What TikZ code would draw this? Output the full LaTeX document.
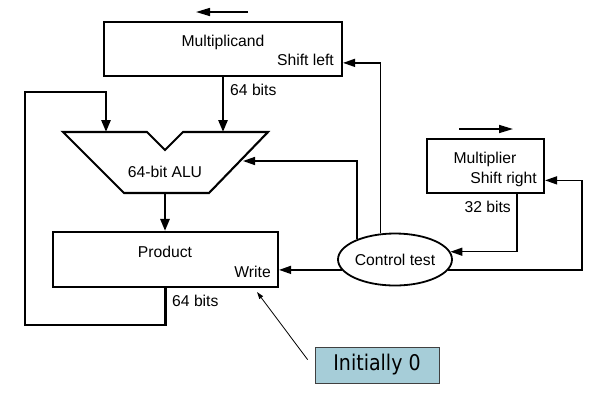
\documentclass[tikz,border=0pt]{standalone}
\usepackage{fontspec}
\setmainfont{Liberation Sans}
\newfontfamily\notefont[FakeStretch=0.88]{DejaVu Sans}
\usepackage{xcolor}
\usepackage{tikz}
\usetikzlibrary{calc,shapes.geometric,arrows.meta}
\definecolor{noteblue}{RGB}{166,205,216}

\begin{document}
\begin{tikzpicture}[x=1bp,y=-1bp,
							every node/.style={inner sep=0pt,font=\fontsize{15.7bp}{18bp}\selectfont},
							reg/.style={draw,rectangle,line width=2.1bp},
							bus/.style={line width=2.6bp,-{Triangle[length=12bp,width=9bp]}},
							ctl/.style={line width=1.5bp,-{Triangle[length=12bp,width=8bp]}},
							shiftarrow/.style={line width=1.6bp,-{Triangle[length=14bp,width=8bp]}},
							note/.style={line width=0.8bp,-{Triangle[length=7bp,width=4.5bp]}}]
			\useasboundingbox (0,0) rectangle (597,401);
			\node[reg,minimum width=238bp,minimum height=54bp] (mcand) at (223,49) {};
			\node[anchor=base] (mcandname) at (223,46) {Multiplicand};
			\node[anchor=base east] (shl) at (334,65.5) {Shift left};
			\node[reg,minimum width=117bp,minimum height=54bp] (mplier) at (485.5,166) {};
			\node[anchor=base] (mpliername) at (485,163) {Multiplier};
			\node[anchor=base east] (shr) at (537,183) {Shift right};
			\node[reg,minimum width=225bp,minimum height=55bp] (product) at (165.5,259.5) {};
			\node[anchor=base] (prodname) at (165,257.5) {Product};
			\node[anchor=base east] (wr) at (271,277.5) {Write};
			\coordinate (alua) at (106,132);
			\coordinate (alub) at (223,132);
			\coordinate (aluc) at (243,161);
			\coordinate (aluo) at (165,193);
			\draw[line width=2.1bp] (63,132) -- (147,132) -- (165,150) -- (183,132) -- (268,132) -- (209,193) -- (124,193) -- cycle;
			\node[anchor=base] (alu) at (165,177) {64-bit ALU};
			\node[draw,ellipse,line width=1.8bp,minimum width=114bp,minimum height=52bp] (ctrl) at (395,259.5) {Control test};
			\node[draw=black!75,fill=noteblue,line width=0.8bp,minimum width=124bp,minimum height=36bp,
				font=\notefont\fontsize{21.6bp}{24bp}\selectfont] (init) at (377,365) {Initially 0};
			\coordinate (lft0) at (248,12);
			\coordinate (lft1) at (196,12);
			\coordinate (rgt0) at (459,129);
			\coordinate (rgt1) at (513,129);
			\draw[shiftarrow] (lft0) -- (lft1);
			\draw[shiftarrow] (rgt0) -- (rgt1);
			\coordinate (loopbl) at (25,325);
			\coordinate (looptl) at (25,92);
			\draw[bus] (mcand.south -| alub) -- (alub);
			\node[anchor=base west] (mcbits) at (230,95) {64 bits};
			\draw[bus] (aluo) -- (aluo |- product.north);
			\draw[bus] (product.south) |- (loopbl) -- (looptl) -| (alua);
			\node[anchor=base west] (pbits) at (172,306) {64 bits};
			\draw[ctl] (ctrl.119) |- (mcand.east |- shl.mid);
			\draw[ctl] (ctrl.152) |- (aluc);
			\draw[ctl] (ctrl.191) -- (product.east |- ctrl.191);
			\draw[ctl] (ctrl.-11) -| ($(mplier.east |- shr.mid)+(37,0)$) -- (mplier.east |- shr.mid);
			\draw[ctl] ($(mplier.south)+(31.5,0)$) |- (ctrl.8);
			\node[anchor=base east] (mpbits) at (511,212) {32 bits};
			\draw[note] ($(init.north west)+(-7,13)$) -- ($(product.south east)+(-22,4)$);
		\end{tikzpicture}
\end{document}
